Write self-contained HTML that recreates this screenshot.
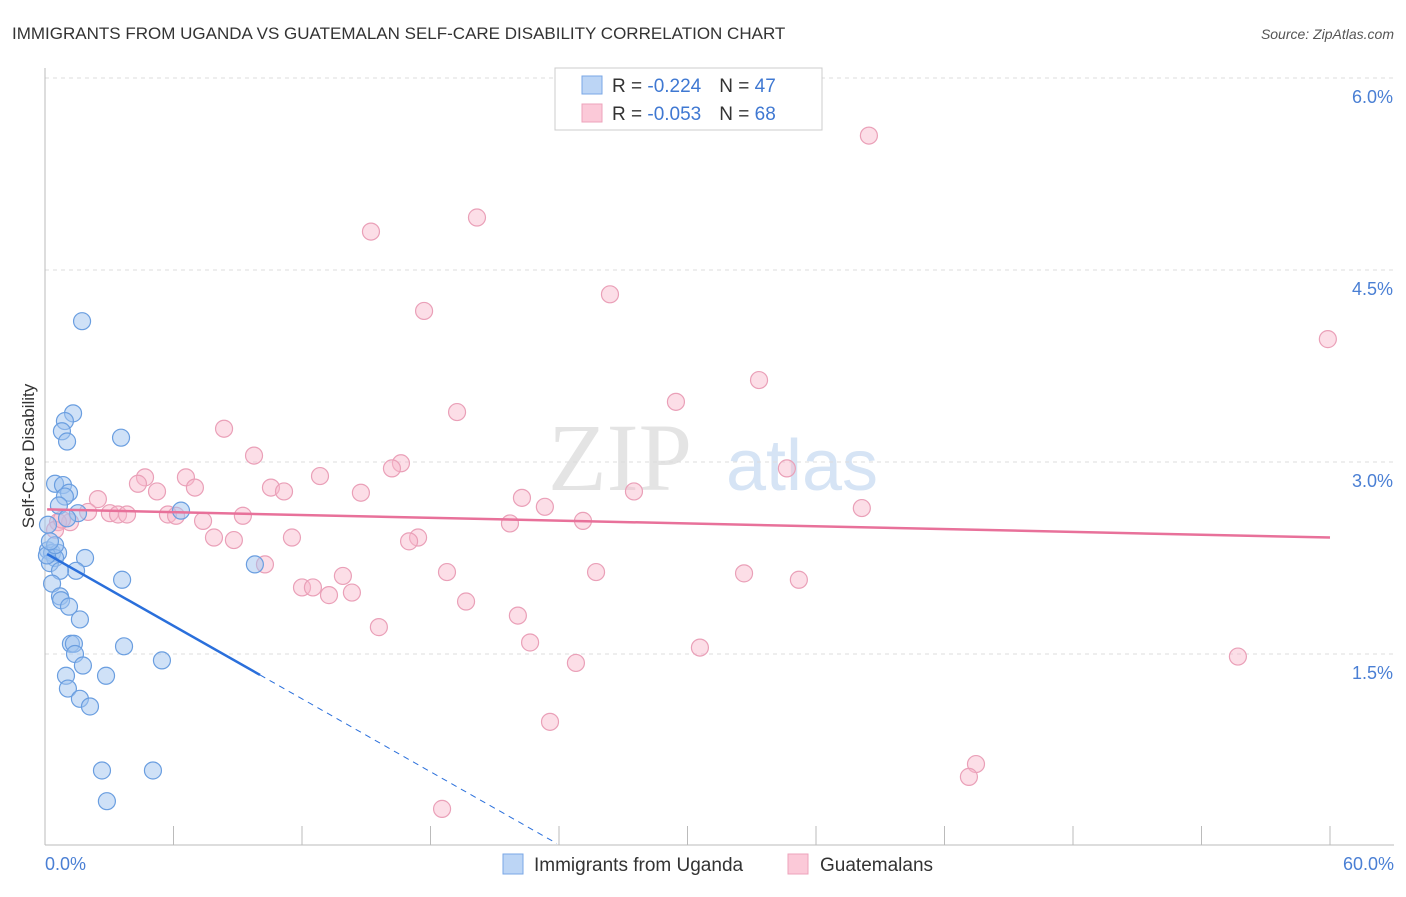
<!DOCTYPE html>
<html><head><meta charset="utf-8"><style>
body{margin:0;background:#fff;font-family:"Liberation Sans",sans-serif}
</style></head><body>
<svg id="c" width="1406" height="892" xmlns="http://www.w3.org/2000/svg" style="font-family:'Liberation Sans',sans-serif">
<text x="12" y="39" font-size="17" fill="#333">IMMIGRANTS FROM UGANDA VS GUATEMALAN SELF-CARE DISABILITY CORRELATION CHART</text>
<text x="1394" y="39" font-size="14" fill="#555" font-style="italic" text-anchor="end">Source: ZipAtlas.com</text>
<text x="620" y="490" font-size="96" fill="#e4e4e4" font-family="Liberation Serif,serif" text-anchor="middle">ZIP</text>
<text x="802" y="490" font-size="72" fill="#d6e4f5" text-anchor="middle">atlas</text>
<g id="grid"></g><g id="marks"></g>
<text transform="translate(34,456) rotate(-90)" font-size="17" fill="#333" text-anchor="middle">Self-Care Disability</text>
<text x="45" y="870" font-size="18" fill="#4a7fd4">0.0%</text>
<text x="1394" y="870" font-size="18" fill="#4a7fd4" text-anchor="end">60.0%</text>
<g>
<rect x="555" y="68" width="267" height="62" fill="#fff" stroke="#ccc"/>
<rect x="582" y="76" width="20" height="18" fill="#bcd5f5" stroke="#7aa7e6"/>
<rect x="582" y="104" width="20" height="18" fill="#fbc9d8" stroke="#eea3bb"/>
<text x="612" y="92" font-size="19" fill="#333">R = <tspan fill="#3f78d2">-0.224</tspan><tspan dx="18">N = </tspan><tspan fill="#3f78d2">47</tspan></text>
<text x="612" y="120" font-size="19" fill="#333">R = <tspan fill="#3f78d2">-0.053</tspan><tspan dx="18">N = </tspan><tspan fill="#3f78d2">68</tspan></text>
</g>
<g>
<rect x="503" y="854" width="20" height="20" fill="#bcd5f5" stroke="#7aa7e6"/>
<text x="534" y="871" font-size="19" fill="#333">Immigrants from Uganda</text>
<rect x="788" y="854" width="20" height="20" fill="#fbc9d8" stroke="#eea3bb"/>
<text x="820" y="871" font-size="19" fill="#333">Guatemalans</text>
</g>
</svg>
<script>
const yTicks=[1.5,3.0,4.5,6.0];
const yTickLabels=["1.5%","3.0%","4.5%","6.0%"];
const xTicks=[0,6,12,18,24,30,36,42,48,54,60];
const ugandaX=[1.73,1.31,0.93,0.79,1.03,3.55,0.47,0.84,1.12,0.93,0.65,1.54,6.35,0.14,0.14,0.33,0.61,0.47,1.87,0.23,1.45,0.70,9.80,3.60,0.33,0.70,0.75,1.12,1.63,1.21,1.35,3.69,1.40,5.46,1.77,0.98,2.85,1.07,1.63,2.10,2.66,5.04,2.89,0.09,0.47,1.03,0.23];
const ugandaY=[4.10,3.38,3.32,3.24,3.16,3.19,2.83,2.82,2.76,2.73,2.66,2.60,2.62,2.51,2.31,2.29,2.29,2.25,2.25,2.21,2.15,2.15,2.20,2.08,2.05,1.95,1.92,1.87,1.77,1.58,1.58,1.56,1.50,1.45,1.41,1.33,1.33,1.23,1.15,1.09,0.59,0.59,0.35,2.27,2.35,2.56,2.38];
const guatX=[38.47,20.17,15.22,26.38,17.70,59.90,33.34,29.46,19.24,8.36,9.76,16.62,16.20,34.64,12.84,4.67,6.58,4.34,7.00,10.55,11.16,5.23,14.75,27.50,2.47,22.27,23.34,38.14,2.01,3.03,3.41,3.83,5.74,6.12,9.24,7.38,25.12,21.71,1.17,0.61,0.47,7.89,8.82,11.53,17.42,17.0,10.27,18.77,25.73,32.64,13.91,35.20,12.0,12.51,14.33,13.26,19.66,22.08,15.59,22.65,30.58,24.79,55.70,23.58,43.47,43.14,18.54,0.79];
const guatY=[5.55,4.91,4.80,4.31,4.18,3.96,3.64,3.47,3.39,3.26,3.05,2.99,2.95,2.95,2.89,2.88,2.88,2.83,2.80,2.80,2.77,2.77,2.76,2.77,2.71,2.72,2.65,2.64,2.61,2.60,2.59,2.59,2.59,2.58,2.58,2.54,2.54,2.52,2.53,2.53,2.47,2.41,2.39,2.41,2.41,2.38,2.20,2.14,2.14,2.13,2.11,2.08,2.02,2.02,1.98,1.96,1.91,1.80,1.71,1.59,1.55,1.43,1.48,0.97,0.64,0.54,0.29,2.55];
const ugandaTrend=[2.29,-0.095]; // intercept, slope
const guatTrend=[2.63,-0.00367];
const sx=v=>45+v/60*1285, sy=v=>846-v*128;
const NS="http://www.w3.org/2000/svg";
function mk(t,a,p){const e=document.createElementNS(NS,t);for(const k in a)e.setAttribute(k,a[k]);p.appendChild(e);return e;}
const g=document.getElementById('grid'),m=document.getElementById('marks');
yTicks.forEach((v,i)=>{
 const l=mk('line',{x1:45,x2:1394,y1:sy(v),y2:sy(v),stroke:'#ddd','stroke-dasharray':'4,4'},g);
 
 
 const t=mk('text',{x:1393,y:sy(v)+25,'font-size':18,fill:'#4a7fd4','text-anchor':'end'},g);
 t.textContent=yTickLabels[i];
 
 
});
xTicks.forEach(v=>{
 const l=mk('line',{x1:sx(v),x2:sx(v),y1:826,y2:845,stroke:'#bbb'},g);
 
 
});
const ya=mk('line',{x1:45,x2:45,y1:68,y2:845,stroke:'#bbb'},g);


const xa=mk('line',{x1:45,x2:1394,y1:845,y2:845,stroke:'#bbb'},g);


guatX.forEach((x,i)=>{
 const c=mk('circle',{cx:sx(x),cy:sy(guatY[i]),r:8.5,fill:'rgba(248,182,202,0.45)',stroke:'#eaa0b8','stroke-width':1.2},m);
 
 
});
ugandaX.forEach((x,i)=>{
 const c=mk('circle',{cx:sx(x),cy:sy(ugandaY[i]),r:8.5,fill:'rgba(160,196,240,0.5)',stroke:'#6a9ee0','stroke-width':1.2},m);
 
 
});
const gt=mk('line',{x1:sx(0.1),y1:sy(guatTrend[0]+guatTrend[1]*0.1),x2:sx(60),y2:sy(guatTrend[0]+guatTrend[1]*60),stroke:'#e8719a','stroke-width':2.5},m);


const xe=10.04, xd=(0.02-ugandaTrend[0])/ugandaTrend[1];
const ut=mk('line',{x1:sx(0.1),y1:sy(ugandaTrend[0]+ugandaTrend[1]*0.1),x2:sx(xe),y2:sy(ugandaTrend[0]+ugandaTrend[1]*xe),stroke:'#2a6fdb','stroke-width':2.5},m);


const ud=mk('line',{x1:sx(xe),y1:sy(ugandaTrend[0]+ugandaTrend[1]*xe),x2:sx(xd),y2:sy(0.02),stroke:'#2a6fdb','stroke-width':1,'stroke-dasharray':'6,5'},m);


</script>
</body></html>
